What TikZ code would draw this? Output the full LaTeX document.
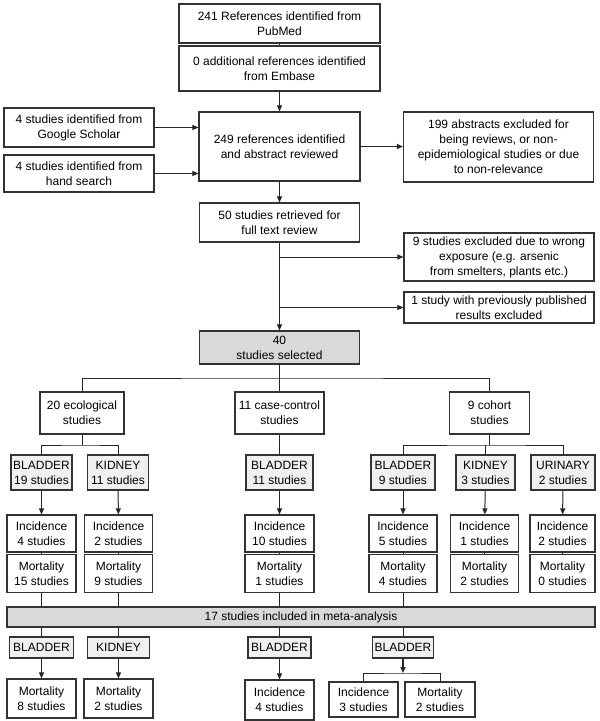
\documentclass[tikz,border=0pt]{standalone}
\usepackage{fontspec}
\setmainfont{Liberation Sans}
\usetikzlibrary{arrows.meta}
\begin{document}
\begin{tikzpicture}[x=1pt,y=-1pt,
  box/.style={draw=black!80, line width=1.1pt, fill=white, inner sep=0pt, align=center,
    font=\fontsize{12}{15}\selectfont},
  organ/.style={box, fill=black!6, line width=1.5pt},
  sel/.style={box, fill=black!15},
  conn/.style={draw=black!85, line width=1pt},
  arr/.style={conn, -{Triangle[length=6pt,width=5pt]}}
]
\useasboundingbox (0,0) rectangle (600,721);
\fill[white] (0,0) rectangle (600,721);
% top part
\node[box, minimum width=201, minimum height=39] (pub) at (279.5,23.5) {241 References identified from\\PubMed};
\node[box, minimum width=201, minimum height=45] (emb) at (279.5,68.5) {0 additional references identified\\from Embase};
\node[box, minimum width=161, minimum height=69] (ref) at (279.5,146.5) {249 references identified\\and abstract reviewed};
\node[box, minimum width=150, minimum height=39] (gs) at (79,127.5) {4 studies identified from\\Google Scholar};
\node[box, minimum width=150, minimum height=37] (hs) at (79,173.5) {4 studies identified from\\hand search};
\node[box, minimum width=190, minimum height=70] (abs) at (498.5,147) {199 abstracts excluded for\\being reviews, or non-\\epidemiological studies or due\\to non-relevance};
\node[box, minimum width=160, minimum height=39] (ft) at (279.5,222.5) {50 studies retrieved for\\full text review};
\node[box, minimum width=190, minimum height=48] (exa) at (499,257) {9 studies excluded due to wrong\\exposure (e.g. arsenic\\from smelters, plants etc.)};
\node[box, minimum width=190, minimum height=31] (exb) at (499,307.5) {1 study with previously published\\results excluded};
\node[sel, minimum width=160, minimum height=33] (slc) at (279.5,347.5) {40\\studies selected};
% design level
\node[box, minimum width=84, minimum height=42] (eco) at (82,413) {20 ecological\\studies};
\node[box, minimum width=89, minimum height=42] (cc) at (279.5,413) {11 case-control\\studies};
\node[box, minimum width=80, minimum height=42] (coh) at (489.5,413) {9 cohort\\studies};
% organ level
\node[organ, minimum width=61, minimum height=35] (eb) at (41.5,472.5) {BLADDER\\19 studies};
\node[organ, minimum width=61, minimum height=35] (ek) at (118,472.5) {KIDNEY\\11 studies};
\node[organ, minimum width=67, minimum height=35] (cb) at (279.5,472.5) {BLADDER\\11 studies};
\node[organ, minimum width=64, minimum height=35] (hb) at (403,472.5) {BLADDER\\9 studies};
\node[organ, minimum width=59, minimum height=35] (hk) at (485.5,472.5) {KIDNEY\\3 studies};
\node[organ, minimum width=64, minimum height=35] (hu) at (563,472.5) {URINARY\\2 studies};
% incidence
\node[box, minimum width=69, minimum height=37] (ei) at (41.5,533.5) {Incidence\\4 studies};
\node[box, minimum width=68, minimum height=37] (eki) at (118.5,533.5) {Incidence\\2 studies};
\node[box, minimum width=69, minimum height=37] (ci) at (279.5,533.5) {Incidence\\10 studies};
\node[box, minimum width=68, minimum height=37] (hi) at (403,533.5) {Incidence\\5 studies};
\node[box, minimum width=68, minimum height=37] (hki) at (484.5,533.5) {Incidence\\1 studies};
\node[box, minimum width=65, minimum height=37] (hui) at (562.5,533.5) {Incidence\\2 studies};
% mortality
\node[box, minimum width=69, minimum height=38] (em) at (41.5,573.5) {Mortality\\15 studies};
\node[box, minimum width=68, minimum height=38] (ekm) at (118.5,573.5) {Mortality\\9 studies};
\node[box, minimum width=69, minimum height=38] (cm) at (279.5,573.5) {Mortality\\1 studies};
\node[box, minimum width=68, minimum height=38] (hm) at (403,573.5) {Mortality\\4 studies};
\node[box, minimum width=68, minimum height=38] (hkm) at (484.5,573.5) {Mortality\\2 studies};
\node[box, minimum width=65, minimum height=38] (hum) at (562.5,573.5) {Mortality\\0 studies};
% meta
\node[sel, minimum width=588, minimum height=20] (meta) at (301,617) {17 studies included in meta-analysis};
% bottom organ
\node[organ, minimum width=64, minimum height=21] (ba) at (41.5,647.5) {BLADDER};
\node[organ, minimum width=62, minimum height=21] (bb) at (118.5,647.5) {KIDNEY};
\node[organ, minimum width=63, minimum height=21] (bc) at (279.5,647.5) {BLADDER};
\node[organ, minimum width=61, minimum height=21] (bd) at (403,647.5) {BLADDER};
% final
\node[box, minimum width=69, minimum height=39] (fa) at (41.5,698.5) {Mortality\\8 studies};
\node[box, minimum width=69, minimum height=39] (fb) at (118.5,698.5) {Mortality\\2 studies};
\node[box, minimum width=69, minimum height=40] (fc) at (279.5,700) {Incidence\\4 studies};
\node[box, minimum width=69, minimum height=35] (fd) at (363.5,699.5) {Incidence\\3 studies};
\node[box, minimum width=70, minimum height=35] (fe) at (440,699.5) {Mortality\\2 studies};
% helper levels
\coordinate (hA) at (0,378);
\coordinate (hB) at (0,445);
\coordinate (hC) at (0,673);
% connectors top
\draw[conn] (pub) -- (emb);
\draw[arr] (emb) -- (ref);
\draw[arr] (gs.east) -- (gs.east -| ref.west);
\draw[arr] (hs.east) -- (hs.east -| ref.west);
\draw[arr] (ref.east) -- (ref.east -| abs.west);
\draw[arr] (ref) -- (ft);
\draw[arr] (ft) -- (slc);
\draw[arr] (ft.south |- exa.west) -- (exa.west);
\draw[arr] (ft.south |- exb.west) -- (exb.west);
% split to designs
\draw[conn] (slc) -- (cc);
\draw[conn] (eco.north) |- (slc.south |- hA) -| (coh.north);
% ecological branch
\draw[conn] (eco.south) -- (eco.south |- hB);
\draw[conn] (eb.north) |- (eco.south |- hB) -| (ek.north);
% case-control
\draw[conn] (cc) -- (cb);
% cohort branch
\draw[conn] (coh.south) -- (coh.south |- hB);
\draw[conn] (hb.north) |- (coh.south |- hB) -| (hu.north);
\draw[conn] (hk.north) -- (hk.north |- hB);
% organ to incidence
\foreach \a/\b in {eb/ei,ek/eki,cb/ci,hb/hi,hk/hki,hu/hui}
  \draw[arr] (\a) -- (\b);
% incidence to mortality
\foreach \a/\b in {ei/em,eki/ekm,ci/cm,hi/hm,hki/hkm,hui/hum}
  \draw[conn] (\a) -- (\b);
% mortality to meta
\foreach \a in {em,ekm,cm,hm}
  \draw[conn] (\a.south) -- (\a.south |- meta.north);
% meta to bottom organ
\foreach \a in {ba,bb,bc,bd}
  \draw[conn] (\a.north |- meta.south) -- (\a.north);
% bottom organ to final
\draw[arr] (ba) -- (fa);
\draw[arr] (bb) -- (fb);
\draw[arr] (bc) -- (fc);
\draw[arr, line width=1.8pt] (bd.south) -- (bd.south |- hC);
\draw[conn] (fd.north) |- (bd.south |- hC) -| (fe.north);
\end{tikzpicture}
\end{document}
